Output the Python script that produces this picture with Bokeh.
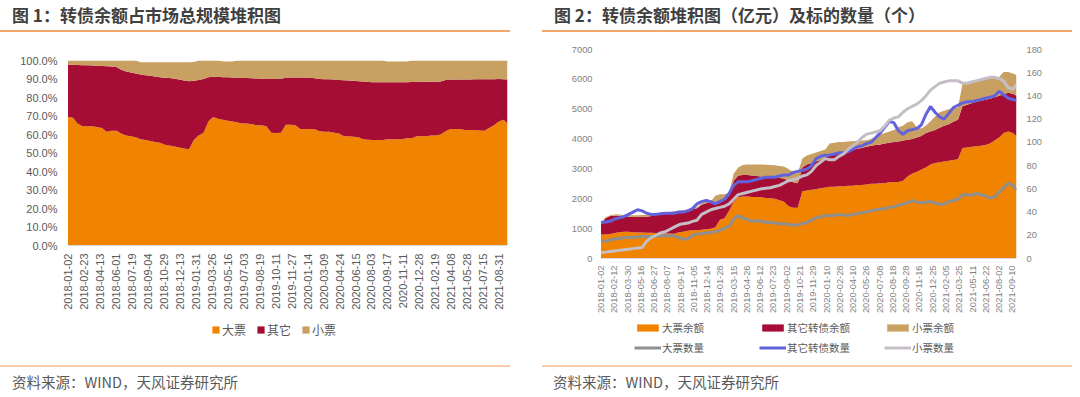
import math
from bokeh.plotting import figure
from bokeh.models import (ColumnDataSource, Range1d, LinearAxis, FixedTicker, PrintfTickFormatter,
                          Legend, LegendItem, Div)
from bokeh.layouts import row, column
from bokeh.embed import file_html
from bokeh.resources import INLINE

# ---------------- data ----------------
# trading-day index (0 = 2018-01-02), sampled every 10 trading days
days = list(range(0, 901, 10)) + [908]

# Figure 1: share of total market (%)
big_share = [69.5, 69, 66, 64.5, 64.5, 64.5, 64, 63.5, 61.5, 62, 62,
             60.5, 59.5, 59, 58.5, 57.5, 57, 56.5, 56, 55.5, 54.5,
             54, 53.5, 53, 52.5, 52, 57, 59.5, 61, 67, 69.5,
             68.5, 68, 67.5, 67, 66.5, 66, 66, 65.5, 65, 65,
             64.5, 61, 60.8, 61, 65.3, 65.3, 65, 63, 63, 63,
             62.8, 61.7, 61.5, 61.5, 61, 60.5, 59, 59, 58.8, 58.5,
             57.5, 57.2, 57, 57, 57, 57.5, 57.5, 57.5, 57.5, 58,
             58, 59, 59, 59, 59.5, 59.5, 60, 61.7, 63, 63,
             63, 62.5, 62.5, 62.5, 62.2, 62, 63.5, 65, 67, 68,
             66]
other_share = [28.3, 28.7, 31.6, 33.0, 32.9, 32.8, 33.2, 33.5, 35.4, 34.7, 34.5,
               34.5, 34.5, 34.5, 34.5, 35.0, 35.0, 35.2, 35.3, 35.5, 36.2,
               36.5, 36.7, 36.7, 36.7, 36.8, 32.0, 30.0, 29.0, 24.0, 21.7,
               22.7, 23.0, 23.5, 23.8, 24.2, 24.6, 24.5, 24.9, 25.3, 25.2,
               25.5, 29.0, 29.2, 29.0, 25.5, 25.5, 25.8, 27.8, 27.8, 27.7,
               27.6, 28.3, 28.4, 28.3, 28.7, 29.0, 30.3, 30.2, 30.2, 30.3,
               31.1, 31.2, 31.3, 31.2, 31.2, 30.7, 30.7, 30.7, 30.7, 30.3,
               30.4, 29.4, 29.5, 29.5, 29.0, 29.0, 28.6, 27.8, 26.7, 26.7,
               26.7, 27.2, 27.2, 27.3, 27.6, 27.8, 26.3, 24.9, 23.0, 21.9,
               23.7]
small_share = [2.2, 2.3, 2.4, 2.5, 2.6, 2.7, 2.8, 3.0, 3.1, 3.3, 3.5,
               5.0, 6.0, 6.5, 7.0, 6.5, 7.0, 7.3, 7.7, 8.0, 8.3,
               8.5, 8.8, 9.3, 9.8, 10.2, 10.2, 10.5, 10.0, 9.0, 8.8,
               8.8, 8.5, 8.5, 8.7, 9.3, 9.4, 9.5, 9.6, 9.7, 9.8,
               10.0, 10.0, 10.0, 10.0, 9.2, 9.2, 9.2, 9.2, 9.2, 9.3,
               9.6, 10.0, 10.1, 10.2, 10.3, 10.5, 10.7, 10.8, 11.0, 11.2,
               11.4, 11.6, 11.7, 11.8, 11.8, 11.3, 11.3, 11.3, 11.3, 11.2,
               11.6, 11.6, 11.5, 11.5, 11.5, 11.5, 11.4, 10.5, 10.3, 10.3,
               10.3, 10.3, 10.3, 10.2, 10.2, 10.2, 10.2, 10.1, 10.0, 10.1,
               10.3]

# Figure 2: balances (亿元)
big_amt = [800, 800, 820, 850, 880, 900, 900, 880, 870, 870, 860,
           860, 850, 850, 840, 840, 830, 880, 900, 930, 950,
           950, 960, 980, 1000, 1050, 1300, 1350, 1600, 1900, 2050,
           2080, 2080, 2060, 2060, 2050, 2030, 2020, 2000, 1950, 1900,
           1750, 1700, 1700, 2250, 2280, 2300, 2320, 2350, 2380, 2400,
           2400, 2420, 2420, 2440, 2440, 2460, 2460, 2480, 2500, 2500,
           2520, 2520, 2550, 2560, 2560, 2600, 2750, 2850, 2900, 2980,
           3050, 3150, 3200, 3220, 3250, 3270, 3300, 3320, 3700, 3720,
           3740, 3760, 3780, 3800, 3850, 3950, 4050, 4200, 4250, 4200,
           4100]
other_amt = [350, 550, 600, 590, 550, 520, 500, 520, 520, 530, 540,
             560, 600, 630, 660, 680, 710, 680, 680, 690, 700,
             730, 840, 870, 880, 850, 650, 650, 500, 700, 730,
             720, 720, 720, 700, 700, 710, 710, 720, 750, 780,
             850, 850, 820, 800, 870, 900, 930, 950, 1000, 1050,
             1080, 1100, 1140, 1160, 1200, 1220, 1240, 1260, 1280, 1300,
             1300, 1330, 1330, 1340, 1360, 1350, 1230, 1150, 1150, 1120,
             1150, 1100, 1100, 1160, 1200, 1230, 1280, 1330, 1400, 1430,
             1460, 1490, 1500, 1520, 1500, 1450, 1400, 1300, 1300, 1320,
             1350]
small_amt = [50, 30, 30, 30, 40, 40, 50, 50, 60, 60, 60,
             60, 50, 40, 40, 40, 40, 40, 40, 30, 30,
             40, 50, 50, 40, 200, 200, 150, 100, 250, 270,
             330, 350, 370, 390, 400, 400, 400, 400, 400, 400,
             400, 350, 330, 300, 300, 300, 300, 300, 270, 400,
             400, 380, 340, 320, 290, 260, 250, 220, 220, 280,
             330, 350, 370, 400, 480, 500, 580, 600, 350, 250,
             250, 350, 450, 520, 500, 500, 470, 400, 750, 750,
             720, 700, 700, 680, 680, 650, 630, 750, 700, 680,
             700]

# Figure 2: number of bonds (个)
n_big = [15, 15, 16, 17, 17, 18, 18, 18, 18.5, 19, 19,
         19, 19, 19.5, 19.5, 19.5, 19.5, 18, 16.5, 17, 20,
         21, 21.5, 22, 22.5, 23, 24.5, 26, 28, 34, 37,
         35, 33.5, 32.5, 32, 32.5, 31, 31, 30.5, 30, 30,
         29.5, 28.5, 29, 30, 31, 33, 35, 36, 37, 37,
         37, 38, 37.5, 37, 38, 38.5, 39.5, 40, 41, 42,
         42.5, 43, 44, 44.5, 46, 47, 48, 50, 48.5, 48,
         48.5, 49, 48, 46.5, 47, 49, 50, 51, 55, 55,
         54.5, 56, 55, 54, 52, 53, 57, 61, 65, 63,
         59]
n_other = [31, 31.5, 32, 34, 35, 36, 38, 40, 42, 41, 39,
           38, 38, 38.5, 39, 39, 39, 40, 40, 41, 43,
           47, 49, 50, 49, 47, 49, 51, 56, 63, 66,
           66, 66, 67, 68, 69, 70, 70, 70, 71, 72,
           72, 74, 75, 76, 77, 80, 86, 88, 89, 89,
           90, 91, 91, 92, 94, 96, 97, 99, 100, 104,
           108, 113, 118, 117, 110, 107, 110, 111, 112, 115,
           124, 131, 126, 122, 120, 125, 130, 132, 134, 135,
           135, 136, 137, 138, 139, 140, 144, 141, 138, 137,
           136]
n_small = [5, 5.5, 6, 6.5, 7, 7.5, 8, 8.5, 9, 9.5, 15,
           18, 20, 22, 23, 25, 27, 29, 30, 30.5, 32,
           33, 38, 40, 42, 43, 44, 45, 47, 51, 55,
           56, 57, 58, 59, 60, 60.5, 61, 62, 63, 65,
           67, 68, 69, 71, 72, 75, 80, 83, 86, 85,
           85, 88, 90, 94, 97, 100, 104, 107, 108, 109,
           110, 114, 119, 121, 122, 126, 129, 131, 133, 136,
           140, 145, 148, 151, 152, 153, 153, 153, 151, 151,
           152, 153, 154, 155, 156, 156, 155, 153, 147, 146,
           150]

left_tick_labels = ["2018-01-02", "2018-02-23", "2018-04-13", "2018-06-01", "2018-07-19",
                    "2018-09-04", "2018-10-29", "2018-12-13", "2019-01-31", "2019-03-26",
                    "2019-05-16", "2019-07-03", "2019-08-19", "2019-10-11", "2019-11-27",
                    "2020-01-14", "2020-03-09", "2020-04-24", "2020-06-15", "2020-08-03",
                    "2020-09-17", "2020-11-11", "2020-12-28", "2021-02-19", "2021-04-08",
                    "2021-05-28", "2021-07-15", "2021-08-31"]
left_tick_step = 33
right_tick_labels = ["2018-01-02", "2018-02-12", "2018-03-30", "2018-05-16", "2018-06-27",
                     "2018-08-07", "2018-09-17", "2018-11-05", "2018-12-14", "2019-01-28",
                     "2019-03-15", "2019-04-26", "2019-06-12", "2019-07-23", "2019-09-02",
                     "2019-10-21", "2019-11-29", "2020-01-10", "2020-02-28", "2020-04-10",
                     "2020-05-26", "2020-07-08", "2020-08-18", "2020-09-28", "2020-11-16",
                     "2020-12-25", "2021-02-05", "2021-03-25", "2021-05-11", "2021-06-22",
                     "2021-08-02", "2021-09-10"]
right_tick_step = 29

share_names = ["大票", "其它", "小票"]
amt_names = ["大票余额", "其它转债余额", "小票余额"]
cnt_names = ["大票数量", "其它转债数量", "小票数量"]

title1 = "图 1：转债余额占市场总规模堆积图"
title2 = "图 2：转债余额堆积图（亿元）及标的数量（个）"
source_text = "资料来源：WIND，天风证券研究所"

# ---------------- style ----------------
C_AREA = ["#f08300", "#a50d35", "#c8a062"]
C_LINE = ["#8f8f8f", "#6262dc", "#c6bec6"]
CJK = "Noto Sans CJK SC"
NUM = "Liberation Sans"
PW = 540
XR = (-1, 908)
LEG_DX = -62   # measured horizontal offset of the legend strip's frame


def base_fig(h, yr, lb, rb, tb, bb):
    p = figure(width=PW, height=h, x_range=Range1d(*XR), y_range=Range1d(*yr),
               output_backend="svg", toolbar_location=None,
               min_border_left=lb, min_border_right=rb, min_border_top=tb, min_border_bottom=bb)
    p.outline_line_color = None
    p.xgrid.visible = False
    p.ygrid.visible = False
    p.background_fill_color = "white"
    p.border_fill_color = "white"
    return p


def legend_fig(h):
    # strip that only carries the legend; its ranges keep the swatch renderers out of view
    p = figure(width=PW, height=h, x_range=Range1d(*XR), y_range=Range1d(-300, -200),
               x_axis_type=None, y_axis_type=None,
               output_backend="svg", toolbar_location=None, min_border=0)
    p.outline_line_color = None
    p.xgrid.visible = False
    p.ygrid.visible = False
    p.border_fill_color = "white"
    p.background_fill_color = "white"
    return p


def style_xaxis(ax, ticks, labels, size, standoff, color):
    ax.ticker = FixedTicker(ticks=ticks)
    ax.major_label_overrides = {t: l for t, l in zip(ticks, labels)}
    ax.major_label_orientation = math.pi / 2
    ax.major_tick_line_color = None
    ax.minor_tick_line_color = None
    ax.major_tick_out = 0
    ax.major_tick_in = 0
    ax.axis_line_color = "#d9d9d9"
    ax.major_label_standoff = standoff
    ax.major_label_text_font = NUM
    ax.major_label_text_font_size = size
    ax.major_label_text_color = color


def style_yaxis(ax, size, standoff, color):
    ax.axis_line_color = None
    ax.major_tick_line_color = None
    ax.minor_tick_line_color = None
    ax.major_tick_out = 0
    ax.major_tick_in = 0
    ax.major_label_standoff = standoff
    ax.major_label_text_font = NUM
    ax.major_label_text_font_size = size
    ax.major_label_text_color = color


def make_legend(items, loc, gw, gh, standoff, spacing, lw, size):
    return Legend(items=items, orientation="horizontal", location=loc, padding=0, margin=0,
                  glyph_width=gw, glyph_height=gh, label_standoff=standoff, spacing=spacing,
                  label_height=14, label_width=lw,
                  label_text_font=CJK, label_text_font_size=size, label_text_color="#595959",
                  background_fill_alpha=0, border_line_color=None)


def header_div(text, tx, lx0, lx1):
    html = (
        '<div style="position:relative;width:%dpx;height:40px;">'
        '<div style="position:absolute;left:%dpx;top:4px;white-space:nowrap;'
        "font-family:'Noto Sans CJK SC';font-size:17px;font-weight:bold;color:#404040;line-height:22px;\">%s</div>"
        '<div style="position:absolute;left:%dpx;top:30px;width:%dpx;height:1.5px;background:#f2a76a;"></div>'
        '</div>' % (PW, tx, text, lx0, lx1 - lx0)
    )
    return Div(text=html, width=PW, height=40, margin=0)


def footer_div(text, tx, lx0, lx1):
    html = (
        '<div style="position:relative;width:%dpx;height:41px;">'
        '<div style="position:absolute;left:%dpx;top:9px;width:%dpx;height:1.5px;background:#f8cbad;"></div>'
        '<div style="position:absolute;left:%dpx;top:15px;white-space:nowrap;'
        "font-family:'Noto Sans CJK SC';font-size:14.5px;color:#595959;line-height:22px;\">%s</div>"
        '</div>' % (PW, lx0, lx1 - lx0, tx, text)
    )
    return Div(text=html, width=PW, height=41, margin=0)


# ---------------- figure 1 ----------------
p1 = base_fig(273, (0, 100), 67, 33, 20, 68)
src1 = ColumnDataSource(dict(day=days, big=big_share, other=other_share, small=small_share))
p1.varea_stack(["big", "other", "small"], x="day", source=src1, color=C_AREA)
lt = [i * left_tick_step for i in range(len(left_tick_labels))]
style_xaxis(p1.xaxis[0], lt, left_tick_labels, "11px", 8, "#595959")
p1.yaxis[0].ticker = FixedTicker(ticks=list(range(0, 101, 10)))
p1.yaxis[0].formatter = PrintfTickFormatter(format="%.1f%%")
style_yaxis(p1.yaxis[0], "11px", 10, "#595959")

lg1 = legend_fig(43)
sw1 = lg1.varea_stack(["big", "other", "small"], x="day", source=src1, color=C_AREA)
lg1.add_layout(make_legend([LegendItem(label=n, renderers=[r]) for n, r in zip(share_names, sw1)],
                           (206 + LEG_DX, 18), 9, 9, 2, 10, 24, "12px"))

# ---------------- figure 2 ----------------
p2 = base_fig(276, (0, 7000), 60, 64, 9, 57)
p2.extra_y_ranges = {"cnt": Range1d(0, 180)}
src2 = ColumnDataSource(dict(day=days, big=big_amt, other=other_amt, small=small_amt,
                             nb=n_big, no=n_other, ns=n_small))
p2.varea_stack(["big", "other", "small"], x="day", source=src2, color=C_AREA)
for fld, c in zip(["nb", "no", "ns"], C_LINE):
    p2.line("day", fld, source=src2, y_range_name="cnt", line_color=c, line_width=3)
rt = [i * right_tick_step for i in range(len(right_tick_labels))]
style_xaxis(p2.xaxis[0], rt, right_tick_labels, "9.3px", 7, "#7f7f7f")
p2.yaxis[0].ticker = FixedTicker(ticks=list(range(0, 7001, 1000)))
style_yaxis(p2.yaxis[0], "9.3px", 8, "#7f7f7f")
ax_r = LinearAxis(y_range_name="cnt", ticker=FixedTicker(ticks=list(range(0, 181, 20))))
style_yaxis(ax_r, "9.3px", 10, "#7f7f7f")
p2.add_layout(ax_r, "right")

lg2 = legend_fig(40)
sw2a = lg2.varea_stack(["big", "other", "small"], x="day", source=src2, color=C_AREA)
sw2l = [lg2.line("day", fld, source=src2, line_color=c, line_width=3)
        for fld, c in zip(["nb", "no", "ns"], C_LINE)]
lg2.add_layout(make_legend([LegendItem(label=n, renderers=[r]) for n, r in zip(amt_names, sw2a)],
                           (96 + LEG_DX, 21), 27, 9, 1, 6, 91, "10.5px"))
lg2.add_layout(make_legend([LegendItem(label=n, renderers=[r]) for n, r in zip(cnt_names, sw2l)],
                           (96 + LEG_DX, 1), 27, 9, 1, 6, 91, "10.5px"))

left_col = column(header_div(title1, 12, 0, 510), p1, lg1, footer_div(source_text, 12, 0, 510))
right_col = column(header_div(title2, 14, 2, 532), p2, lg2, footer_div(source_text, 13, 2, 532))
layout = row(left_col, right_col)
open("out.html", "w").write(file_html(layout, INLINE))
